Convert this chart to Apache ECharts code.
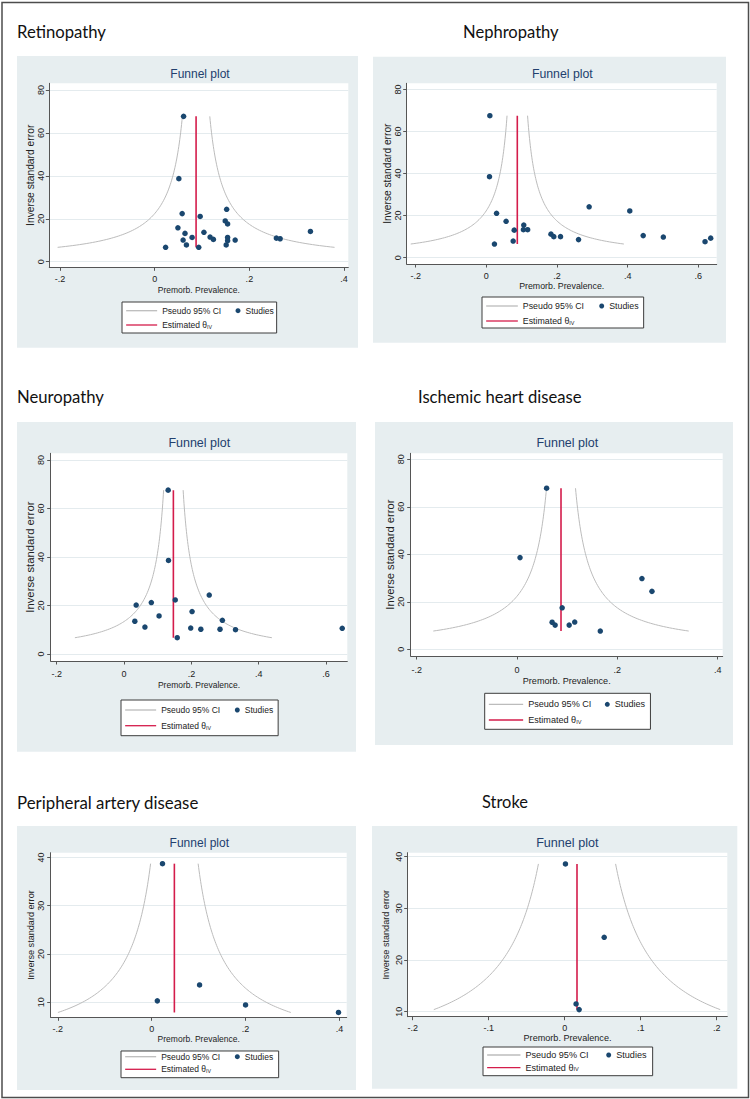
<!DOCTYPE html>
<html><head><meta charset="utf-8">
<script src="https://cdn.jsdelivr.net/npm/echarts@6/dist/echarts.min.js"></script>
<style>html,body{margin:0;padding:0;background:#fff}#c{width:750px;height:1099px}</style>
</head><body><div id="c"></div>
<script>
// ---------------- data ----------------
const panelNames = ['Retinopathy', 'Nephropathy', 'Neuropathy', 'Ischemic heart disease', 'Peripheral artery disease', 'Stroke'];
const plotTitle = 'Funnel plot';
const xAxisTitle = 'Premorb. Prevalence.';
const yAxisTitle = 'Inverse standard error';
const legendCI = 'Pseudo 95% CI';
const legendStudies = 'Studies';
const legendTheta = 'Estimated θIV';

const retinopathyX = [0.061, 0.051, 0.058, 0.096, 0.152, 0.149, 0.154, 0.049, 0.064, 0.104, 0.079, 0.060, 0.067, 0.023, 0.093, 0.117, 0.124, 0.154, 0.154, 0.151, 0.170, 0.257, 0.265, 0.329];
const retinopathyY = [67.7, 38.7, 22.4, 21.1, 24.4, 19.0, 17.6, 15.8, 13.2, 13.7, 11.3, 10.1, 7.8, 6.7, 6.7, 11.5, 10.4, 11.3, 9.8, 7.8, 10.1, 11.0, 10.7, 14.1];

const nephropathyX = [0.010, 0.009, 0.029, 0.056, 0.079, 0.076, 0.023, 0.106, 0.105, 0.117, 0.183, 0.191, 0.210, 0.261, 0.291, 0.406, 0.444, 0.501, 0.619, 0.635];
const nephropathyY = [67.5, 38.5, 21.1, 17.3, 13.1, 7.9, 6.5, 15.5, 13.3, 13.3, 11.2, 10.0, 10.0, 8.6, 24.2, 22.2, 10.5, 9.8, 7.6, 9.3];

const neuropathyX = [0.131, 0.132, 0.152, 0.253, 0.081, 0.036, 0.202, 0.104, 0.292, 0.032, 0.062, 0.198, 0.228, 0.285, 0.331, 0.158, 0.648];
const neuropathyY = [67.6, 38.6, 22.3, 24.3, 21.2, 20.2, 17.5, 15.7, 13.9, 13.5, 11.1, 10.7, 10.2, 10.2, 10.0, 6.7, 10.6];

const ihdX = [0.059, 0.006, 0.249, 0.269, 0.090, 0.070, 0.076, 0.104, 0.115, 0.166];
const ihdY = [67.8, 38.6, 29.8, 24.4, 17.5, 11.4, 10.2, 10.2, 11.5, 7.7];

const padX = [0.023, 0.102, 0.012, 0.200, 0.398];
const padY = [38.7, 13.6, 10.3, 9.45, 7.9];

const strokeX = [0.001, 0.052, 0.015, 0.019];
const strokeY = [38.6, 24.4, 11.5, 10.4];

// pooled (inverse-variance) estimates
const thetas = [0.0874, 0.0877, 0.1465, 0.0877, 0.0483, 0.0162];

// tick values
const xTicks = [
  [-0.2, 0, 0.2, 0.4],
  [-0.2, 0, 0.2, 0.4, 0.6],
  [-0.2, 0, 0.2, 0.4, 0.6],
  [-0.2, 0, 0.2, 0.4],
  [-0.2, 0, 0.2, 0.4],
  [-0.2, -0.1, 0, 0.1, 0.2]
];
const yTicks = [
  [0, 20, 40, 60, 80],
  [0, 20, 40, 60, 80],
  [0, 20, 40, 60, 80],
  [0, 20, 40, 60, 80],
  [10, 20, 30, 40],
  [10, 20, 30, 40]
];

const studyX = [retinopathyX, nephropathyX, neuropathyX, ihdX, padX, strokeX];
const studyY = [retinopathyY, nephropathyY, neuropathyY, ihdY, padY, strokeY];

// ---------------- layout (pixels) ----------------
const layout = [
  {bg:[17,56,358,347.7], head:[17,32,89], grid:[49.3,83.3,348.3,267.3], xr:[-0.2227,0.409], yr:[-2.6,83.1], ft:[200,74,12], xlm:7.2, xng:18.4, ylm:3.5, yng:13.3, xnf:8.5, ynf:10.3, leg:[122,302,276,333], rows:[310.7,325], dot:238, iw:31},
  {bg:[373,56.7,726,342.7], head:[463,32,95.7], grid:[406.7,83.3,716.7,264], xr:[-0.2253,0.652], yr:[-3.0,82.9], ft:[562.3,74,12.3], xlm:7.5, xng:17.6, ylm:4.5, yng:14, xnf:8.8, ynf:10.2, leg:[482,297,643,328], rows:[306,321], dot:601.7, iw:31.7},
  {bg:[17,422,356,751.7], head:[17,397,87], grid:[50.7,453.3,347.3,661], xr:[-0.2178,0.663], yr:[-2.9,82.8], ft:[199.3,442.7,12.5], xlm:8.8, xng:19.7, ylm:5, yng:14.7, xnf:8.5, ynf:11.3, leg:[121,700,277.5,735.7], rows:[710,725.7], dot:237.3, iw:31},
  {bg:[375,422,733,745], head:[418,397,163.7], grid:[410.7,453.3,722.7,656], xr:[-0.2119,0.41], yr:[-2.8,82.5], ft:[567.3,443,12.5], xlm:9.5, xng:20.2, ylm:5, yng:15.7, xnf:9.1, ynf:11.2, leg:[484.7,693.3,649.8,729.3], rows:[704.3,720], dot:607.3, iw:34.3},
  {bg:[17,826,356,1090], head:[17,802,181.7], grid:[50.7,852.7,346.7,1017.3], xr:[-0.2152,0.4155], yr:[6.9,40.97], ft:[199.3,843,12], xlm:7.5, xng:15.8, ylm:5, yng:14.7, xnf:8.5, ynf:9.1, leg:[121,1051,278,1077.7], rows:[1056.7,1069.3], dot:237.3, iw:31},
  {bg:[372,826,737.3,1088.7], head:[482,802,46], grid:[407.7,852.7,727.3,1016.7], xr:[-0.2066,0.214], yr:[9.03,40.77], ft:[567.3,843,12.6], xlm:7, xng:14.8, ylm:4.4, yng:17, xnf:9.1, ynf:9.1, leg:[483,1047,652,1075.7], rows:[1055,1067.7], dot:608.7, iw:33.3}
];

const F = '"Liberation Sans", Arial, sans-serif';
const HF = 'Lato, "Open Sans", sans-serif';
const NAVY = '#1a476f', RED = '#d41c4b', GRAY = '#bcbcbc', AX = '#555', BG = '#e7eef0', GRID = '#e4ebee';

const ctx = document.createElement('canvas').getContext('2d');
function tw(text, size, fam) { ctx.font = size + 'px ' + fam; return ctx.measureText(text).width; }

function fmt(v) {
  if (Math.abs(v) < 1e-9) return '0';
  return (v < 0 ? '-' : '') + Math.abs(v).toFixed(1).replace(/^0/, '');
}
// pseudo 95% confidence limits: theta +/- 1.96 * se, with se = 1 / (inverse standard error)
function funnelBranch(theta, ymin, ymax, sign) {
  const pts = [];
  const n = 80;
  for (let k = 0; k <= n; k++) {
    const y = ymin * Math.pow(ymax / ymin, k / n);
    pts.push([theta + sign * 1.96 / y, y]);
  }
  return pts;
}

const option = {animation:false, grid:[], xAxis:[], yAxis:[], series:[], legend:[], graphic:[]};
option.graphic.push({type:'rect', shape:{x:2, y:2.5, width:746.5, height:1095}, style:{fill:'none', stroke:'#4d4d4d', lineWidth:1.5}, z:50});

layout.forEach((L, i) => {
  const xs = studyX[i], ys = studyY[i], th = thetas[i];
  const ymin = Math.min(...ys), ymax = Math.max(...ys);
  // panel background
  option.graphic.push({type:'rect', shape:{x:L.bg[0], y:L.bg[1], width:L.bg[2]-L.bg[0], height:L.bg[3]-L.bg[1]}, style:{fill:BG}, z:-1});
  // heading
  const hs = 20 * L.head[2] / tw(panelNames[i], 20, HF);
  option.graphic.push({type:'text', x:L.head[0], y:L.head[1], style:{text:panelNames[i], font: hs.toFixed(2) + 'px ' + HF, fill:'#111', textAlign:'left', textVerticalAlign:'middle'}, z:10});
  // funnel plot title
  option.graphic.push({type:'text', x:L.ft[0], y:L.ft[1], style:{text:plotTitle, font: L.ft[2] + 'px ' + F, fill:'#22406e', textAlign:'center', textVerticalAlign:'middle'}, z:10});

  option.grid.push({left:L.grid[0], top:L.grid[1], width:L.grid[2]-L.grid[0], height:L.grid[3]-L.grid[1], show:true, backgroundColor:'#fff', borderWidth:0});
  option.xAxis.push({
    type:'value', gridIndex:i, min:L.xr[0], max:L.xr[1],
    axisLine:{onZero:false, lineStyle:{color:AX, width:1}},
    axisTick:{show:true, length:3.5, customValues:xTicks[i], lineStyle:{color:AX}},
    axisLabel:{customValues:xTicks[i], formatter:fmt, margin:L.xlm, fontSize:9, color:'#222', fontFamily:F},
    splitLine:{show:false},
    name:xAxisTitle, nameLocation:'middle', nameGap:L.xng, nameTextStyle:{fontSize:L.xnf, color:'#222', fontFamily:F}
  });
  option.yAxis.push({
    type:'value', gridIndex:i, min:L.yr[0], max:L.yr[1],
    axisLine:{show:true, onZero:false, lineStyle:{color:AX, width:1}},
    axisTick:{show:true, length:3.5, customValues:yTicks[i], lineStyle:{color:AX}},
    axisLabel:{customValues:yTicks[i], rotate:90, margin:L.ylm, fontSize:9, color:'#222', fontFamily:F},
    splitLine:{show:true, lineStyle:{color:GRID, width:1}},
    name:yAxisTitle, nameLocation:'middle', nameGap:L.yng, nameTextStyle:{fontSize:L.ynf, color:'#222', fontFamily:F}
  });
  option.series.push({type:'line', name:legendCI, xAxisIndex:i, yAxisIndex:i, data:funnelBranch(th, ymin, ymax, -1), symbol:'none', lineStyle:{color:GRAY, width:1}, itemStyle:{color:GRAY}, silent:true, z:2});
  option.series.push({type:'line', name:legendCI, xAxisIndex:i, yAxisIndex:i, data:funnelBranch(th, ymin, ymax, 1), symbol:'none', lineStyle:{color:GRAY, width:1}, itemStyle:{color:GRAY}, silent:true, z:2});
  option.series.push({type:'line', name:legendTheta, xAxisIndex:i, yAxisIndex:i, data:[[th, ymin], [th, ymax]], symbol:'none', lineStyle:{color:RED, width:1.6}, itemStyle:{color:RED}, silent:true, z:3});
  option.series.push({type:'scatter', name:legendStudies, xAxisIndex:i, yAxisIndex:i, data:xs.map((x, k) => [x, ys[k]]), symbolSize:5.5, itemStyle:{color:NAVY, opacity:1}, silent:true, z:4});

  // legends
  const rh = 9, pl = 3.5;
  const boxW = L.leg[2] - L.leg[0];
  const contentW = L.iw + 5 + tw(legendCI, L.xnf, F);
  const pt = Math.max(0, L.rows[0] - rh / 2 - L.leg[1]);
  const gap = L.rows[1] - L.rows[0] - rh;
  const pb = Math.max(0, L.leg[3] - L.leg[1] - pt - 2 * rh - gap);
  const pr = boxW - pl - contentW;
  const ts = {fontFamily:F, fontSize:L.xnf, color:'#222', lineHeight:rh,
    rich:{s:{fontFamily:F, fontSize:L.xnf*0.62, lineHeight:4, verticalAlign:'bottom', color:'#222'}}};
  option.legend.push({
    orient:'vertical', left:L.leg[0], top:L.leg[1], padding:[pt, pr, pb, pl],
    itemWidth:L.iw, itemHeight:rh, itemGap:gap, backgroundColor:'#fff', borderColor:'#3c3c3c', borderWidth:1, borderRadius:0,
    selectedMode:false, textStyle:ts, lineStyle:{width:1.3},
    formatter: n => n === legendTheta ? 'Estimated θ{s|IV}' : n,
    data:[{name:legendCI, itemStyle:{opacity:0}}, {name:legendTheta, itemStyle:{opacity:0}}]
  });
  option.legend.push({
    orient:'horizontal', left:L.dot - 2.5, top:L.rows[0] - rh / 2, padding:0,
    itemWidth:5, itemHeight:5, itemGap:0, selectedMode:false, textStyle:ts,
    data:[{name:legendStudies, icon:'circle'}]
  });
});

const chart = echarts.init(document.getElementById('c'), null, {renderer:'svg'});
chart.setOption(option);
</script>
</body></html>
